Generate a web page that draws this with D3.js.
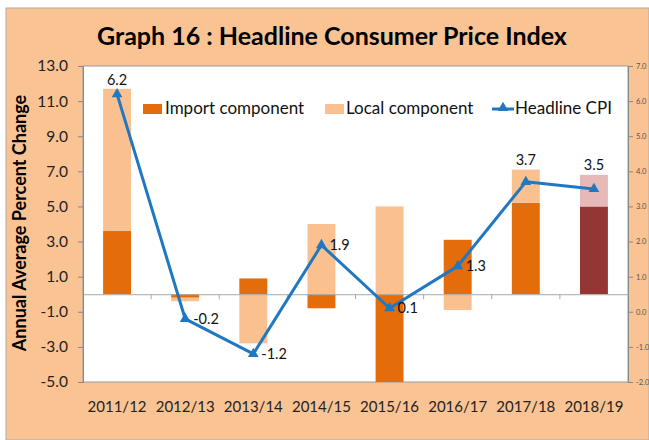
<!DOCTYPE html>
<html>
<head>
<meta charset="utf-8">
<script src="https://cdn.jsdelivr.net/npm/d3@7"></script>
<style>
  body { margin: 0; background: #fff; }
  text { font-family: Lato, "Open Sans", sans-serif; }
</style>
</head>
<body>
<div id="chart"></div>
<script>
// chart values
const years = ["2011/12", "2012/13", "2013/14", "2014/15", "2015/16", "2016/17", "2017/18", "2018/19"];
const importComponent = [3.6, -0.2, 0.9, -0.8, -5.0, 3.1, 5.2, 5.0];
const localComponent = [8.1, -0.2, -2.8, 4.0, 5.0, -0.9, 1.9, 1.8];
const headlineCpi = [6.2, -0.2, -1.2, 1.9, 0.1, 1.3, 3.7, 3.5];
const leftTicks = [13, 11, 9, 7, 5, 3, 1, -1, -3, -5];
const rightTicks = [7, 6, 5, 4, 3, 2, 1, 0, -1, -2];

const width = 649, height = 440;
const plot = { left: 83, right: 628, top: 66, bottom: 382 };

// excel style numbers with a plain hyphen
const fmt = v => d3.format(".1f")(v).replace("\u2212", "-");

const svg = d3.select("#chart").append("svg")
    .attr("width", width)
    .attr("height", height);

// peach background
svg.append("rect")
    .attr("x", 6).attr("y", 8)
    .attr("width", width - 6).attr("height", height - 8)
    .attr("fill", "#fac393")
    .attr("stroke", "#b9a89a")
    .attr("stroke-width", 1);

svg.append("text")
    .attr("x", 332).attr("y", 45)
    .attr("text-anchor", "middle")
    .attr("font-size", 25)
    .attr("font-weight", "bold")
    .attr("fill", "#000")
    .text("Graph 16 : Headline Consumer Price Index");

// plot area
svg.append("rect")
    .attr("x", plot.left).attr("y", plot.top)
    .attr("width", plot.right - plot.left).attr("height", plot.bottom - plot.top)
    .attr("fill", "#fff")
    .attr("stroke", "#9a9a9a")
    .attr("stroke-width", 1);

const x = d3.scaleBand()
    .domain(years)
    .range([plot.left, plot.right])
    .paddingInner(0.59)
    .paddingOuter(0.295);

const y = d3.scaleLinear().domain([-5, 13]).range([plot.bottom, plot.top]);
const y2 = d3.scaleLinear().domain([-2, 7]).range([plot.bottom, plot.top]);

// left axis
const leftAxis = svg.append("g")
    .attr("transform", `translate(${plot.left},0)`)
    .call(d3.axisLeft(y).tickValues(leftTicks).tickFormat(fmt).tickSize(5).tickPadding(10));
leftAxis.select(".domain").attr("stroke", "#888");
leftAxis.selectAll(".tick line").attr("stroke", "#888");
leftAxis.selectAll(".tick text")
    .attr("font-size", 15.5)
    .attr("fill", "#222")
    .attr("font-family", "Lato, sans-serif");

// right axis
const rightAxis = svg.append("g")
    .attr("transform", `translate(${plot.right},0)`)
    .call(d3.axisRight(y2).tickValues(rightTicks).tickFormat(fmt).tickSize(5).tickPadding(3));
rightAxis.select(".domain").attr("stroke", "#888");
rightAxis.selectAll(".tick line").attr("stroke", "#888");
rightAxis.selectAll(".tick text")
    .attr("font-size", 7.5)
    .attr("fill", "#555")
    .attr("font-family", "Lato, sans-serif");

svg.append("text")
    .attr("transform", `translate(26,${(plot.top + plot.bottom) / 2 - 1}) rotate(-90)`)
    .attr("text-anchor", "middle")
    .attr("font-size", 18)
    .attr("font-weight", "bold")
    .attr("fill", "#000")
    .text("Annual Average Percent Change");

// stacked bars
const table = years.map((yr, i) => ({ year: yr, imp: importComponent[i], loc: localComponent[i] }));
const stack = d3.stack().keys(["imp", "loc"]).offset(d3.stackOffsetDiverging);
const series = stack(table);

const barColors = {
    imp: ["#e46c0a", "#943634"],
    loc: ["#fac090", "#e6b9b8"]
};
const lastYear = years[years.length - 1];

svg.append("g").selectAll("g")
    .data(series)
    .join("g")
    .selectAll("rect")
    .data(s => s.map(d => ({ key: s.key, d })))
    .join("rect")
    .attr("x", e => x(e.d.data.year))
    .attr("width", x.bandwidth())
    .attr("y", e => y(Math.max(e.d[0], e.d[1])))
    .attr("height", e => Math.abs(y(e.d[0]) - y(e.d[1])))
    .attr("fill", e => barColors[e.key][e.d.data.year === lastYear ? 1 : 0]);

// zero line with category ticks
svg.append("g")
    .attr("transform", `translate(0,${y(0)})`)
    .call(d3.axisBottom(x).tickSize(0).tickFormat(""))
    .call(g => g.select(".domain").attr("stroke", "#aaa"));
const step = x.step();
svg.append("g").selectAll("line")
    .data(d3.range(1, years.length))
    .join("line")
    .attr("x1", k => plot.left + k * step)
    .attr("x2", k => plot.left + k * step)
    .attr("y1", y(0))
    .attr("y2", y(0) + 5)
    .attr("stroke", "#aaa");

// category labels
svg.append("g").selectAll("text")
    .data(years)
    .join("text")
    .attr("x", d => x(d) + x.bandwidth() / 2)
    .attr("y", 412)
    .attr("text-anchor", "middle")
    .attr("font-size", 15)
    .attr("fill", "#222")
    .text(d => d);

// headline CPI line
const cx = d => x(d) + x.bandwidth() / 2;
const line = d3.line()
    .x((v, i) => cx(years[i]))
    .y(v => y2(v));

svg.append("path")
    .datum(headlineCpi)
    .attr("d", line)
    .attr("fill", "none")
    .attr("stroke", "#1f78c1")
    .attr("stroke-width", 3)
    .attr("stroke-linejoin", "round");

const tri = d3.symbol().type(d3.symbolTriangle).size(50);
svg.append("g").selectAll("path")
    .data(headlineCpi)
    .join("path")
    .attr("transform", (v, i) => `translate(${cx(years[i])},${y2(v)})`)
    .attr("d", tri)
    .attr("fill", "#1f78c1");

// value labels
const aboveIdx = [0, 6, 7];
svg.append("g").selectAll("text")
    .data(headlineCpi)
    .join("text")
    .attr("x", (v, i) => aboveIdx.includes(i) ? cx(years[i]) : cx(years[i]) + 8)
    .attr("y", (v, i) => {
        if (i === 0) return y2(v) - 9;
        if (i >= 6) return y(Math.max(0, importComponent[i]) + Math.max(0, localComponent[i])) - 5;
        return y2(v) + 5;
    })
    .attr("text-anchor", (v, i) => aboveIdx.includes(i) ? "middle" : "start")
    .attr("font-size", 14.5)
    .attr("fill", "#111")
    .text(fmt);

// legend
const legend = svg.append("g");
legend.append("rect").attr("x", 143).attr("y", 104).attr("width", 19).attr("height", 10).attr("fill", barColors.imp[0]);
legend.append("text").attr("x", 165).attr("y", 114).attr("font-size", 17).attr("fill", "#111").text("Import component");
legend.append("rect").attr("x", 325).attr("y", 104).attr("width", 19).attr("height", 10).attr("fill", barColors.loc[0]);
legend.append("text").attr("x", 346).attr("y", 114).attr("font-size", 17).attr("fill", "#111").text("Local component");
legend.append("line").attr("x1", 492).attr("x2", 514).attr("y1", 109).attr("y2", 109)
    .attr("stroke", "#1f78c1").attr("stroke-width", 3);
legend.append("path").attr("transform", "translate(503,108)").attr("d", tri).attr("fill", "#1f78c1");
legend.append("text").attr("x", 515).attr("y", 114).attr("font-size", 17).attr("fill", "#111").text("Headline CPI");
</script>
</body>
</html>
